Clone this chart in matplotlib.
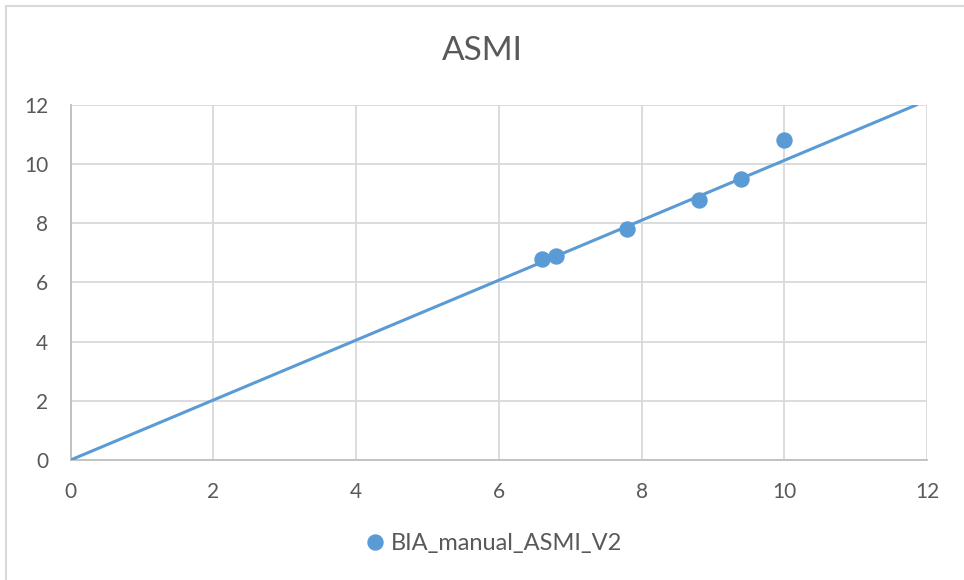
import matplotlib.pyplot as plt
from matplotlib.lines import Line2D

plt.rcParams['font.family'] = ['Lato', 'DejaVu Sans']

# scatter points (BIA vs manual ASMI)
bia_x = [6.6, 6.8, 7.8, 8.8, 9.4, 10.0]
asmi_y = [6.8, 6.9, 7.8, 8.8, 9.5, 10.8]

# fitted line endpoints
line_x = [0, 11.85]
line_y = [0, 12]

ticks = [0, 2, 4, 6, 8, 10, 12]

blue = '#5B9BD5'
grid = '#D9D9D9'
text = '#595959'

fig = plt.figure(figsize=(9.64, 5.8), dpi=100)
ax = fig.add_axes([0.0732, 0.2069, 0.8884, 0.6121])

ax.plot(line_x, line_y, color=blue, lw=2.2, zorder=3)
ax.plot(bia_x, asmi_y, 'o', color=blue, markersize=10.8, zorder=4)

ax.set_xlim(0, 12)
ax.set_ylim(0, 12)
ax.set_xticks(ticks)
ax.set_yticks(ticks)
ax.grid(True, color=grid, lw=1.3)
ax.set_axisbelow(True)
ax.tick_params(length=0, labelsize=15, labelcolor=text)
ax.tick_params(axis='y', pad=16)
ax.tick_params(axis='x', pad=16)
for s in ['top', 'right']:
    ax.spines[s].set_visible(False)
for s in ['left', 'bottom']:
    ax.spines[s].set_color('#BFBFBF')
    ax.spines[s].set_linewidth(1.3)

fig.text(0.5, 0.912, 'ASMI', ha='center', va='center', fontsize=24, color=text)

handle = Line2D([], [], ls='none', marker='o', color=blue, markersize=10.8)
fig.legend([handle], ['BIA_manual_ASMI_V2'], loc='center', bbox_to_anchor=(0.51, 0.063),
           frameon=False, fontsize=17, labelcolor=text, handletextpad=0.1, handlelength=1.2)

# chart border (left and top edges visible)
fig.add_artist(Line2D([0.0065, 0.0065], [0, 0.99], transform=fig.transFigure, color='#D9D9D9', lw=1.5))
fig.add_artist(Line2D([0.0065, 1], [0.99, 0.99], transform=fig.transFigure, color='#D9D9D9', lw=1.5))

fig.savefig('out.png', dpi=100)
